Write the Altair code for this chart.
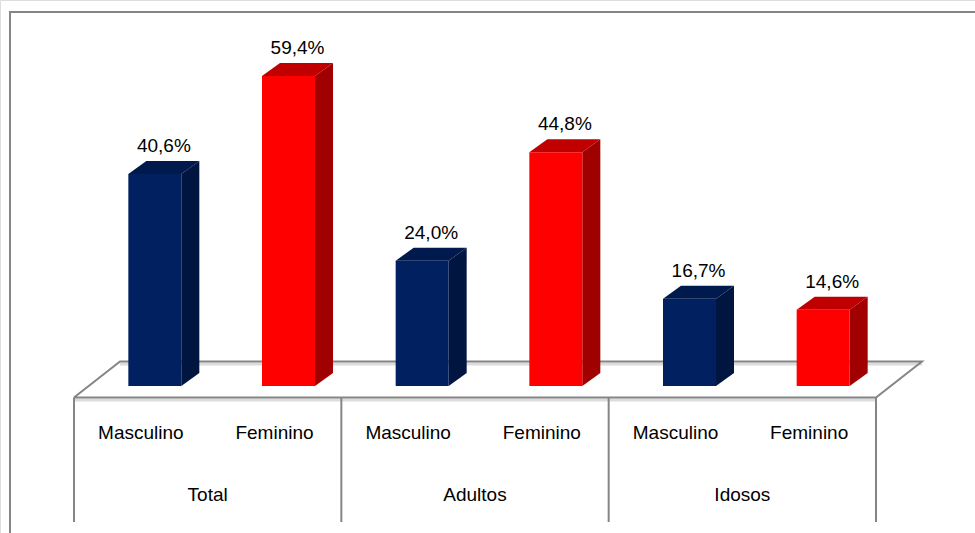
import altair as alt
import pandas as pd

# ---------------- data ----------------
grupos = ["Total", "Total", "Adultos", "Adultos", "Idosos", "Idosos"]
sexos = ["Masculino", "Feminino", "Masculino", "Feminino", "Masculino", "Feminino"]
valores = [40.6, 59.4, 24.0, 44.8, 16.7, 14.6]
grupo_nomes = ["Total", "Adultos", "Idosos"]

# ---------------- style ----------------
W, H = 975, 533
X0_PX, X1_PX = 74, 876          # front edge of floor
Y0_PX = 386                      # baseline of bars
PX_PER_UNIT = 5.22               # vertical pixels per percentage point
N_SLOTS = len(valores)
SLOT_PX = (X1_PX - X0_PX) / N_SLOTS

BAR_W_PX = 53
DEPTH_X_PX, DEPTH_Y_PX = 18, 13       # bar depth
FLOOR_DX_PX, FLOOR_DY_PX = 46, 36     # floor depth
TABLE_BOTTOM_PX = 522
CAT_LABEL_PX = 433
GROUP_LABEL_PX = 495

FONT = "Liberation Sans"
FS = 19
GRAY = "#858585"

COR_FRENTE = {"Masculino": "#00205F", "Feminino": "#FF0000"}
COR_TOPO = {"Masculino": "#001A4E", "Feminino": "#C00000"}
COR_LADO = {"Masculino": "#00153F", "Feminino": "#A00000"}

Y_MIN, Y_MAX = -30, 70
X_SCALE = alt.Scale(domain=[0, N_SLOTS], range=[X0_PX, X1_PX])
Y_SCALE = alt.Scale(domain=[Y_MIN, Y_MAX],
                    range=[Y0_PX - Y_MIN * PX_PER_UNIT, Y0_PX - Y_MAX * PX_PER_UNIT])


def ux(px):
    return px / SLOT_PX


def uy(px):
    return px / PX_PER_UNIT


# floor positions in data units
f_front = uy(Y0_PX - (Y0_PX + (FLOOR_DY_PX - DEPTH_Y_PX) / 2))  # floor front edge
f_front = -uy((FLOOR_DY_PX - DEPTH_Y_PX) / 2)
f_back = f_front + uy(FLOOR_DY_PX)
f_dx = ux(FLOOR_DX_PX)
bar_shift = ux((FLOOR_DX_PX - DEPTH_X_PX) / 2)
bw = ux(BAR_W_PX)
ddx, ddy = ux(DEPTH_X_PX), uy(DEPTH_Y_PX)

# ---------------- tables ----------------
front_rows, top_rows, side_rows, lab_rows = [], [], [], []
for i, (g, s, v) in enumerate(zip(grupos, sexos, valores)):
    c = i + 0.5
    x1 = c + bar_shift - bw / 2
    x2 = c + bar_shift + bw / 2
    front_rows.append(dict(id=i, x=x1, x2=x2, y=0, y2=v, cor=COR_FRENTE[s]))
    for (xx, lo, hi) in [(x1, v, v), (x1 + ddx, v, v + ddy),
                         (x2, v, v + ddy), (x2 + ddx, v + ddy, v + ddy)]:
        top_rows.append(dict(id=i, x=xx, y=lo, y2=hi, cor=COR_TOPO[s]))
    for (xx, lo, hi) in [(x2, 0, v), (x2 + ddx, ddy, v + ddy)]:
        side_rows.append(dict(id=i, x=xx, y=lo, y2=hi, cor=COR_LADO[s]))
    lab_rows.append(dict(x=c + bar_shift + ddx / 2, y=v,
                         txt=f"{v:.1f}%".replace(".", ",")))

front_df = pd.DataFrame(front_rows)
top_df = pd.DataFrame(top_rows)
side_df = pd.DataFrame(side_rows)
lab_df = pd.DataFrame(lab_rows)

cat_df = pd.DataFrame(dict(x=[i + 0.5 for i in range(N_SLOTS)], txt=sexos,
                           y=[-uy(CAT_LABEL_PX - Y0_PX)] * N_SLOTS))
grp_df = pd.DataFrame(dict(x=[2 * j + 1 for j in range(len(grupo_nomes))], txt=grupo_nomes,
                           y=[-uy(GROUP_LABEL_PX - Y0_PX)] * len(grupo_nomes)))

floor_fill = pd.DataFrame(dict(x=[0, f_dx, N_SLOTS, N_SLOTS + f_dx],
                               y=[f_front, f_front, f_front, f_back],
                               y2=[f_front, f_back, f_back, f_back]))
floor_line = pd.DataFrame(dict(o=[0, 1, 2, 3, 4],
                               x=[0, N_SLOTS, N_SLOTS + f_dx, f_dx, 0],
                               y=[f_front, f_front, f_back, f_back, f_front]))
floor_band = pd.DataFrame(dict(k=["a", "a", "b", "b"],
                               x=[0, N_SLOTS, f_dx, N_SLOTS + f_dx],
                               y=[f_front, f_front, f_back, f_back]))
sep_df = pd.DataFrame(dict(x=[0, 2, 4, 6], y=[f_front] * 4,
                           y2=[-uy(TABLE_BOTTOM_PX - Y0_PX)] * 4))

X = lambda f="x": alt.X(f"{f}:Q", scale=X_SCALE, axis=None)
Y = lambda f="y": alt.Y(f"{f}:Q", scale=Y_SCALE, axis=None)

border = alt.Chart(pd.DataFrame({"a": [0]})).mark_rect(
    fill=None, stroke=GRAY, strokeWidth=2
).encode(x=alt.value(10), x2=alt.value(W + 20), y=alt.value(12), y2=alt.value(H + 20))

floor_a = alt.Chart(floor_fill).mark_area(color="white", interpolate="linear").encode(
    x=X(), y=Y(), y2="y2:Q")
floor_b = alt.Chart(floor_band).mark_line(color="#DCDCDC", strokeWidth=3, yOffset=2.5).encode(
    x=X(), y=Y(), detail="k:N")
floor_l = alt.Chart(floor_line).mark_line(color=GRAY, strokeWidth=2).encode(
    x=X(), y=Y(), order="o:Q")
seps = alt.Chart(sep_df).mark_rule(color=GRAY, strokeWidth=2).encode(
    x=X(), y=Y(), y2="y2:Q")

front = alt.Chart(front_df).mark_rect().encode(
    x=X(), x2="x2:Q", y=Y(), y2="y2:Q", color=alt.Color("cor:N", scale=None))
top = alt.Chart(top_df).mark_area(interpolate="linear").encode(
    x=X(), y=Y(), y2="y2:Q", detail="id:N", color=alt.Color("cor:N", scale=None))
side = alt.Chart(side_df).mark_area(interpolate="linear").encode(
    x=X(), y=Y(), y2="y2:Q", detail="id:N", color=alt.Color("cor:N", scale=None))

vals = alt.Chart(lab_df).mark_text(
    font=FONT, fontSize=FS, color="black", baseline="alphabetic", dy=-(DEPTH_Y_PX + 9)
).encode(x=X(), y=Y(), text="txt:N")
cats = alt.Chart(cat_df).mark_text(
    font=FONT, fontSize=FS, color="black", baseline="middle"
).encode(x=X(), y=Y(), text="txt:N")
grps = alt.Chart(grp_df).mark_text(
    font=FONT, fontSize=FS, color="black", baseline="middle"
).encode(x=X(), y=Y(), text="txt:N")

chart = alt.layer(
    border, floor_a, floor_b, floor_l, seps, side, top, front, vals, cats, grps
).properties(
    width=W, height=H, padding=0, autosize=alt.AutoSizeParams(type="none")
).configure_view(stroke=None).configure(background="white")

chart.save("out.html", embed_options={"renderer": "svg", "actions": False})
